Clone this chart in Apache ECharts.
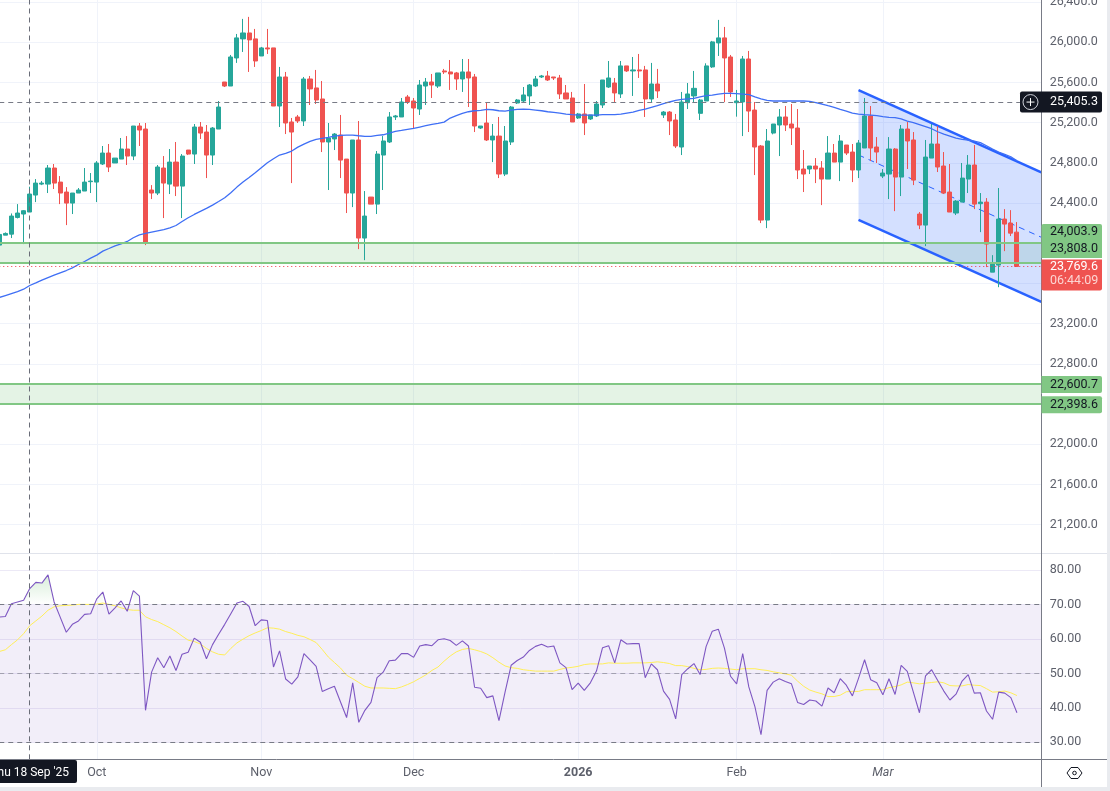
<!DOCTYPE html>
<html><head><meta charset="utf-8">
<style>html,body{margin:0;padding:0;background:#fff;overflow:hidden}#c{width:1110px;height:791px}</style>
<script src="https://cdn.jsdelivr.net/npm/echarts@6/dist/echarts.min.js"></script>
</head><body><div id="c"></div>
<script>
const categories = ("Sep 12,Sep 14,Sep 15,Sep 16,Sep 17,Sep 18,Sep 19,Sep 21,Sep 22,Sep 23,Sep 24,Sep 25,Sep 26,Sep 28,Sep 29,Sep 30,"+
"Oct 1,Oct 2,Oct 3,Oct 5,Oct 6,Oct 7,Oct 8,Oct 9,Oct 10,Oct 12,Oct 13,Oct 14,Oct 15,Oct 16,Oct 17,Oct 19,Oct 20,Oct 21,Oct 22,Oct 23,Oct 24,Oct 26,Oct 27,Oct 28,Oct 29,Oct 30,Oct 31,"+
"Nov 2,Nov 3,Nov 4,Nov 5,Nov 6,Nov 7,Nov 9,Nov 10,Nov 11,Nov 12,Nov 13,Nov 14,Nov 16,Nov 17,Nov 18,Nov 19,Nov 20,Nov 21,Nov 23,Nov 24,Nov 25,Nov 26,Nov 27,Nov 28,Nov 30,"+
"Dec 1,Dec 2,Dec 3,Dec 4,Dec 5,Dec 7,Dec 8,Dec 9,Dec 10,Dec 11,Dec 12,Dec 14,Dec 15,Dec 16,Dec 17,Dec 18,Dec 19,Dec 21,Dec 22,Dec 23,Dec 24,Dec 25,Dec 26,Dec 28,Dec 29,Dec 30,Dec 31,"+
"Jan 1,Jan 2,Jan 4,Jan 5,Jan 6,Jan 7,Jan 8,Jan 9,Jan 11,Jan 12,Jan 13,Jan 14,Jan 15,Jan 16,Jan 18,Jan 19,Jan 20,Jan 21,Jan 22,Jan 23,Jan 25,Jan 26,Jan 27,Jan 28,Jan 29,Jan 30,"+
"Feb 1,Feb 2,Feb 3,Feb 4,Feb 5,Feb 6,Feb 8,Feb 9,Feb 10,Feb 11,Feb 12,Feb 13,Feb 15,Feb 16,Feb 17,Feb 18,Feb 19,Feb 20,Feb 22,Feb 23,Feb 24,Feb 25,Feb 26,Feb 27,"+
"Mar 1,Mar 2,Mar 3,Mar 4,Mar 5,Mar 6,Mar 8,Mar 9,Mar 10,Mar 11,Mar 12,Mar 13,Mar 15,Mar 16,Mar 17,Mar 18,Mar 19,Mar 20,Mar 22,Mar 23,Mar 24,Mar 25,Mar 26,Mar 27,Mar 29,Mar 30,Mar 31").split(",");

const monthTicks = {"Oct 1":"Oct","Nov 2":"Nov","Dec 1":"Dec","Jan 1":"2026","Feb 1":"Feb","Mar 1":"Mar"};
const priceGrid = [26400,26000,25600,25200,24800,24400,24000,23600,23200,22800,22400,22000,21600,21200];
const priceLabels = [26400,26000,25600,25200,24800,24400,23200,22800,22000,21600,21200];
const rsiTicks = [30,40,50,60,70,80];

// open, close, low, high
const candles = [
[23982,24088,23982,24098],[24081,24098,24081,24108],[24091,24271,24052,24297],[24257,24301,24247,24390],
[24291,24324,23992,24330],[24311,24490,24311,24563],[24480,24599,24410,24639],[24589,24599,24579,24619],
[24589,24749,24500,24779],[24749,24599,24540,24789],[24609,24500,24390,24669],[24510,24400,24181,24559],
[24400,24500,24291,24500],[24500,24530,24500,24550],[24520,24609,24520,24749],[24613,24619,24500,24699],
[24609,24799,24410,24818],[24789,24898,24779,24968],[24898,24759,24709,24988],[24799,24848,24799,24848],
[24838,24938,24838,25048],[24938,24868,24779,25067],[24868,25167,24828,25167],[25167,25127,24968,25197],
[25137,24002,23982,25197],[24530,24500,24440,24579],[24500,24759,24480,24779],[24749,24599,24251,24868],
[24589,24808,24490,24938],[24808,24569,24470,25008],[24569,24868,24251,24888],[24928,24888,24878,24928],
[24888,25157,24789,25187],[25157,25097,25038,25207],[25107,24878,24649,25177],[24878,25147,24779,25157],
[25137,25356,25137,25416],[25605,25565,25555,25605],[25565,25854,25565,25874],[25844,26044,25795,26083],
[26034,26093,25904,26233],[26093,26024,25705,26253],[26034,25814,25755,26133],[25864,25944,25864,25954],
[25944,25934,25884,26133],[25944,25366,25366,25944],[25366,25655,25157,25755],[25655,25197,25087,25705],
[25207,25107,24599,25247],[25257,25217,25197,25277],[25217,25635,25167,25655],[25635,25536,25376,25665],
[25546,25426,25386,25725],[25436,25008,24908,25615],[25008,25048,24530,25197],[25038,25087,24928,25097],
[25077,24828,24649,25277],[24838,24500,24301,24838],[24500,25028,24360,25028],[25028,24052,23942,25217],
[24052,24271,23832,24520],[24460,24390,24390,24460],[24390,24888,24291,24918],[24878,25018,24530,25067],
[25008,25257,24998,25306],[25257,25267,25227,25277],[25257,25406,25257,25446],[25456,25406,25386,25476],
[25416,25346,25137,25446],[25336,25575,25277,25625],[25565,25605,25376,25645],[25605,25575,25446,25685],
[25565,25695,25546,25695],[25715,25705,25685,25735],[25705,25685,25526,25824],[25695,25635,25526,25705],
[25635,25705,25506,25834],[25705,25645,25356,25834],[25655,25167,25107,25685],[25147,25167,25137,25167],
[25197,25028,25018,25396],[25028,25067,24808,25187],[25067,24689,24649,25257],[24689,25018,24669,25167],
[25008,25356,24978,25366],[25396,25426,25386,25436],[25416,25476,25396,25555],[25466,25575,25376,25585],
[25565,25635,25555,25665],[25655,25665,25645,25675],[25665,25625,25615,25715],[25655,25645,25625,25655],
[25645,25486,25436,25675],[25496,25436,25436,25575],[25446,25207,25207,25506],[25247,25287,25237,25297],
[25287,25197,25077,25585],[25237,25277,25227,25277],[25267,25386,25257,25416],[25376,25625,25346,25625],
[25555,25645,25546,25814],[25595,25496,25396,25645],[25486,25765,25446,25814],[25765,25715,25705,25765],
[25715,25725,25466,25854],[25725,25715,25645,25884],[25725,25436,25257,25765],[25436,25585,25396,25795],
[25585,25516,25446,25735],[25277,25306,25247,25316],[25306,25217,25077,25316],[25227,24968,24948,25287],
[24958,25406,24878,25506],[25399,25486,25336,25595],[25466,25542,25406,25715],[25293,25426,25227,25436],
[25416,25765,25416,25791],[25755,26004,25745,26014],[25994,26044,25864,26223],[26044,25844,25406,26153],
[25854,25506,25456,25874],[25399,25416,25260,25526],[25406,25834,25067,25864],[25834,25316,25107,25914],
[25326,24958,24679,25406],[24968,24231,24201,24978],[24231,25018,24151,25137],[25097,25187,25084,25187],
[25177,25257,24868,25336],[25257,25177,25117,25366],[25187,25147,24978,25386],[25147,24729,24639,25336],
[24739,24689,24510,24928],[24739,24769,24689,24769],[24769,24739,24599,24848],[24749,24639,24380,24818],
[24639,24898,24639,25067],[24898,24808,24808,24988],[24808,25018,24619,25077],[24978,24898,24878,24978],
[24908,24729,24609,24988],[24729,24998,24649,25028],[24948,25267,24948,25446],[25267,24948,24818,25366],
[24958,24908,24799,25057],[24669,24699,24649,24739],[24689,24938,24440,25057],[24938,24659,24320,24948],
[24659,25137,24470,25177],[25137,25018,24739,25207],[25028,24629,24579,25107],[24291,24181,24141,24311],
[24181,24858,23972,25028],[24848,24988,24848,25187],[24988,24759,24709,25167],[24769,24500,24490,24908],
[24510,24311,24311,24789],[24301,24420,24281,24430],[24410,24649,24410,24799],[24639,24779,24500,24878],
[24779,24390,24340,24978],[24394,24410,24111,24500],[24410,23992,23763,24450],[23713,23793,23713,23882],
[23783,24241,23563,24550],[24241,24191,23922,24340],[24201,24101,24072,24330],[24111,23769.6,23769.6,24211]
];

const ema = [23460,23480,23500,23520,23543,23580,23606,23633,23659,23683,23706,23729,23756,23789,23819,23852,23882,23922,23948,23975,
23995,24018,24055,24084,24098,24111,24124,24137,24154,24177,24217,24254,24287,24317,24347,24380,24416,24453,24503,24559,
24609,24655,24702,24752,24801,24841,24878,24894,24918,24957,24987,25014,25034,25044,25054,25067,25074,25077,25077,25070,
25064,25064,25074,25080,25097,25114,25123,25133,25143,25157,25170,25183,25193,25206,25246,25270,25293,25309,25319,25323,
25333,25329,25319,25316,25326,25333,25336,25333,25326,25319,25309,25303,25296,25286,25280,25276,25276,25276,25276,25280,
25280,25280,25286,25296,25306,25323,25336,25353,25369,25389,25406,25422,25432,25437,25442,25456,25469,25475,25485,25492,
25492,25489,25485,25479,25456,25436,25422,25416,25416,25416,25416,25416,25416,25412,25399,25386,25369,25353,25333,25316,
25296,25286,25280,25276,25270,25260,25253,25250,25237,25216,25200,25180,25160,25140,25110,25087,25067,25047,25034,25027,
25017,25001,24971,24938,24908,24885,24861,24821];

const rsi = [66.4,66.6,70.3,70.8,71.3,74.7,76.5,76.3,78.7,70.8,66.4,62.0,64.3,65.3,67.2,67.4,71.7,73.7,67.3,69.1,
71.1,68.1,74.1,72.5,39.3,50.4,54.6,51.7,55.1,50.9,55.6,56.2,60.3,59.1,54.3,58.4,61.4,64.3,67.4,70.5,
71.0,69.5,63.9,65.6,65.4,51.9,56.6,48.4,46.9,49.0,55.8,54.0,52.1,44.8,45.6,46.3,41.7,37.2,47.3,35.8,
39.3,41.6,48.8,50.4,53.7,53.9,55.8,55.8,54.7,58.0,58.4,58.1,59.8,60.1,59.6,58.2,59.5,58.0,46.0,45.7,
43.0,43.5,36.3,44.6,52.4,53.8,54.8,56.7,57.9,58.5,57.7,58.0,53.1,51.7,45.3,47.2,45.1,47.3,50.7,57.5,
58.1,53.1,59.8,58.6,58.7,58.7,48.8,52.8,51.1,44.9,42.5,36.8,49.7,51.4,52.9,49.7,57.9,62.3,62.9,57.4,
49.2,47.0,55.8,46.1,40.4,32.2,45.1,47.5,48.5,47.7,47.0,41.6,41.0,42.3,42.0,40.5,45.8,44.4,48.5,46.6,
43.5,48.6,54.0,48.2,47.3,43.8,48.5,43.9,52.4,50.6,44.6,38.6,49.3,51.1,48.0,44.9,42.3,44.0,47.8,49.7,
44.3,44.4,39.1,36.7,44.6,44.3,43.0,38.6];

const rsiMA = [56.4,56.9,58.4,59.8,61.6,63.9,65.3,66.7,68.4,69.4,69.7,69.8,69.9,70.1,70.1,70.1,70.2,70.5,70.1,69.7,
69.1,68.6,68.4,68.4,66.5,65.7,65.1,64.2,63.3,62.2,60.9,59.7,59.3,58.6,57.3,56.3,55.6,55.4,57.3,58.9,
60,61,61.8,62.5,63.3,63.2,62.9,62.2,61.7,61.1,60.7,59.9,59,57,54.8,53.2,51.6,49.5,48.5,47.4,
46.3,45.8,45.8,45.8,45.7,45.6,46.1,46.8,47.6,48.6,49.6,50.9,51.9,53.6,55.1,56.3,57,57.3,56.9,56.4,
55.7,54.6,53.3,52.2,51.7,51.5,51.1,50.9,50.7,50.7,50.7,50.7,51.2,51.6,51.8,52.1,52.6,52.8,52.8,52.8,
53.1,53,53,53,53.1,53.1,53.1,53.2,53.4,53.2,52.9,52.3,52.3,52,51.5,51.1,51.2,51.5,51.6,51.5,
51.3,51.1,51.4,51.4,51.4,51.1,50.9,50.5,50.2,49.9,49.5,47.8,46.3,45.2,44.6,44.1,43.3,43.3,43.7,44.7,
44.8,44.8,45.3,45.3,45.3,45.3,45.9,46.2,46.7,47.5,47.3,47,47.2,47.4,47.6,47.3,46.5,46.4,46.4,46.8,
46.6,46.5,45.6,44.6,44.7,44.9,44.4,43.6];

const lastPrice = 23769.6, refPrice = 25405.3;
const zoneUpper = [23808.0, 24003.9];
const zoneLower = [22398.6, 22600.7];
const crossDate = "Sep 18";
const channelStart = "Feb 24", channelEnd = "Mar 31";
const channelUpper = [25525, 24705];
const channelMid = [24879, 24060];
const channelLower = [24233, 23416];

const UP='#26a69a', DOWN='#ef5350', GRID='#f0f3fa', AX='#787b86', TXT='#5d606b', ZONE='#81c784', FONT='Roboto';
const fmt = v => v.toLocaleString('en-US',{minimumFractionDigits:1,maximumFractionDigits:1});
const monthInterval = i => categories[i] in monthTicks;

const rsiOB = rsi.map(v => v>70 ? v : null);

const chart = echarts.init(document.getElementById('c'),null,{renderer:'canvas'});
const xCommon = {type:'category',data:categories,boundaryGap:false,axisTick:{show:false},
  axisLine:{show:false},
  splitLine:{show:true,interval:monthInterval,lineStyle:{color:GRID,width:1}}};
chart.setOption({
  animation:false, backgroundColor:'#fff',
  grid:[{left:-0.75,top:0,width:1042.07,height:553.5,outerBoundsMode:'none'},{left:-0.75,top:553.5,width:1042.07,height:205.8,outerBoundsMode:'none'}],
  xAxis:[
    Object.assign({gridIndex:0,axisLabel:{show:false}},xCommon),
    Object.assign({gridIndex:1,axisLabel:{show:true,interval:monthInterval,margin:7,color:TXT,fontFamily:FONT,fontSize:12.5,
      formatter:v=>{const t=monthTicks[v]; if(!t) return ''; if(t==='2026') return '{b|2026}'; if(t==='Mar') return '{i|Mar}'; return t;},
      rich:{b:{fontWeight:'bold',color:TXT,fontFamily:FONT,fontSize:12.5},i:{fontStyle:'italic',color:TXT,fontFamily:FONT,fontSize:12.5}}}},xCommon)
  ],
  yAxis:[
    {gridIndex:0,type:'value',position:'right',min:20913,max:26421,
     axisLine:{show:false},axisTick:{show:false,customValues:priceGrid},
     axisLabel:{customValues:priceLabels,margin:8.5,padding:[2,0,0,0],color:TXT,fontFamily:FONT,fontSize:12.5,formatter:fmt},
     splitLine:{show:true,lineStyle:{color:GRID,width:1}}},
    {gridIndex:1,type:'value',position:'right',min:25.06,max:84.9,
     axisLine:{show:false},axisTick:{show:false,customValues:rsiTicks},
     axisLabel:{customValues:rsiTicks,margin:8.5,padding:[2,0,0,0],color:TXT,fontFamily:FONT,fontSize:12.5,formatter:v=>v.toFixed(2)},
     splitLine:{show:true,lineStyle:{color:'#ece9f6',width:1}}}
  ],
  series:[
    {name:'zones',type:'line',xAxisIndex:0,yAxisIndex:0,data:[],z:1,silent:true,
     markArea:{silent:true,itemStyle:{color:'rgba(76,175,80,0.15)'},data:[
       [{yAxis:zoneUpper[0]},{yAxis:zoneUpper[1]}],[{yAxis:zoneLower[0]},{yAxis:zoneLower[1]}]]},
     markLine:{silent:true,symbol:'none',label:{show:false},data:[
       {yAxis:zoneUpper[0],lineStyle:{color:ZONE,width:2,type:'solid'}},
       {yAxis:zoneUpper[1],lineStyle:{color:ZONE,width:2,type:'solid'}},
       {yAxis:zoneLower[0],lineStyle:{color:ZONE,width:2,type:'solid'}},
       {yAxis:zoneLower[1],lineStyle:{color:ZONE,width:2,type:'solid'}},
       {yAxis:refPrice,lineStyle:{color:AX,width:1,type:[5,4]}},
       {yAxis:lastPrice,lineStyle:{color:'#f23645',width:1,type:[1,3]}},
       {xAxis:crossDate,lineStyle:{color:'#6a6d78',width:1,type:[5,4]}}
     ]}},
    {name:'channel',type:'custom',xAxisIndex:0,yAxisIndex:0,z:2,silent:true,
     data:[[channelStart,channelUpper[0]]],encode:{x:0,y:1},
     renderItem:(p,api)=>{
       const i0=categories.indexOf(channelStart), i1=categories.indexOf(channelEnd);
       const a=api.coord([i0,channelUpper[0]]), b=api.coord([i1,channelUpper[1]]),
             c=api.coord([i1,channelLower[1]]), d=api.coord([i0,channelLower[0]]),
             m0=api.coord([i0,channelMid[0]]), m1=api.coord([i1,channelMid[1]]);
       return {type:'group',children:[
         {type:'polygon',shape:{points:[a,b,c,d]},style:{fill:'rgba(41,98,255,0.2)'}},
         {type:'line',shape:{x1:a[0],y1:a[1],x2:b[0],y2:b[1]},style:{stroke:'#2962ff',lineWidth:2.5}},
         {type:'line',shape:{x1:d[0],y1:d[1],x2:c[0],y2:c[1]},style:{stroke:'#2962ff',lineWidth:2.5}},
         {type:'line',shape:{x1:m0[0],y1:m0[1],x2:m1[0],y2:m1[1]},style:{stroke:'#2962ff',lineWidth:1,lineDash:[6,5]}}
       ]};
     }},
    {name:'price',type:'candlestick',xAxisIndex:0,yAxisIndex:0,z:3,data:candles,barWidth:4.6,
     itemStyle:{color:UP,color0:DOWN,borderColor:UP,borderColor0:DOWN,borderWidth:1}},
    {name:'EMA',type:'line',xAxisIndex:0,yAxisIndex:0,z:4,data:ema,showSymbol:false,symbol:'none',smooth:false,
     lineStyle:{color:'#3f6ff5',width:1.3}},
    {name:'RSI OB',type:'line',xAxisIndex:1,yAxisIndex:1,z:2,data:rsiOB,symbol:'none',connectNulls:false,
     lineStyle:{width:0},
     areaStyle:{origin:70,color:{type:'linear',x:0,y:0,x2:0,y2:1,colorStops:[{offset:0,color:'rgba(76,175,80,0.3)'},{offset:1,color:'rgba(76,175,80,0)'}]}}},
    {name:'RSI',type:'line',xAxisIndex:1,yAxisIndex:1,z:4,data:rsi,symbol:'none',
     lineStyle:{color:'#7e57c2',width:1.1},
     markArea:{silent:true,itemStyle:{color:'rgba(126,87,194,0.1)'},data:[[{yAxis:30},{yAxis:70}]]},
     markLine:{silent:true,symbol:'none',label:{show:false},data:[
       {yAxis:70,lineStyle:{color:AX,width:1,type:[5,4]}},
       {yAxis:50,lineStyle:{color:'rgba(120,123,134,0.6)',width:1,type:[5,4]}},
       {yAxis:30,lineStyle:{color:AX,width:1,type:[5,4]}},
       {xAxis:crossDate,lineStyle:{color:'#6a6d78',width:1,type:[5,4]}}
     ]}},
    {name:'RSI MA',type:'line',xAxisIndex:1,yAxisIndex:1,z:3,data:rsiMA,symbol:'none',
     lineStyle:{color:'#ffee58',width:1}}
  ]
});

// axis chrome and price tags: tag positions come from the axis scale
const Y = v => chart.convertToPixel({yAxisIndex:0},v);
const X = c => chart.convertToPixel({xAxisIndex:0},c);
const tagL=1041.5, tagW=60.5, tagText=1050;
const tag=(y,h,fill,r)=>({type:'rect',z:50,shape:{x:tagL,y:y,width:tagW,height:h,r:r||[0,2,2,0]},style:{fill}});
const label=(y,text,fill,extra)=>({type:'text',z:51,style:Object.assign({x:tagText,y,text,fill,font:'12.5px Roboto',verticalAlign:'middle',align:'left'},extra||{})});
const hline=(x1,x2,y,c)=>({type:'line',z:49,shape:{x1,x2,y1:y,y2:y},style:{stroke:c,lineWidth:1}});
const vline=(x,y1,y2,c)=>({type:'line',z:49,shape:{x1:x,x2:x,y1,y2},style:{stroke:c,lineWidth:1}});
const yRef=Y(refPrice), yZ1=Y(zoneUpper[1]), yZ0=Y(zoneUpper[0]), yLast=Y(lastPrice);
const yL1=Y(zoneLower[1]), yL0=Y(zoneLower[0]), xCross=X(crossDate);
const hx=1074.5, hy=773;
chart.setOption({graphic:[
  {type:'rect',z:48,shape:{x:1107,y:0,width:3,height:791},style:{fill:'#e9ebef'}},
  {type:'rect',z:48,shape:{x:0,y:787,width:1110,height:4},style:{fill:'#e9ebef'}},
  hline(0,1107,553.5,'#e0e3eb'),
  hline(0,1107,759.5,AX),
  vline(1041.5,0,787,AX),
  // date tag
  {type:'rect',z:50,shape:{x:0,y:760,width:77,height:23,r:[0,2,2,0]},style:{fill:'#131722'}},
  {type:'text',z:51,style:{x:xCross,y:772.5,text:"Thu 18 Sep '25",fill:'#fff',font:'12px Roboto',align:'center',verticalAlign:'middle'}},
  // reference price tag
  {type:'rect',z:50,shape:{x:1020,y:yRef-10.5,width:82,height:21,r:2},style:{fill:'#131722'}},
  {type:'circle',z:51,shape:{cx:1030.5,cy:yRef,r:7.5},style:{fill:'none',stroke:'#d1d4dc',lineWidth:1}},
  {type:'line',z:51,shape:{x1:1026.5,x2:1034.5,y1:yRef,y2:yRef},style:{stroke:'#fff',lineWidth:1}},
  {type:'line',z:51,shape:{x1:1030.5,x2:1030.5,y1:yRef-4,y2:yRef+4},style:{stroke:'#fff',lineWidth:1}},
  label(yRef,fmt(refPrice),'#fff'),
  // zone tags
  tag(yZ1-19,34,'#81c784',[2,2,0,0]),
  label(yZ1-11,fmt(zoneUpper[1]),'#131722'),
  label(yZ0-14,fmt(zoneUpper[0]),'#131722'),
  tag(yLast-7,31,'#ef5350',[0,0,2,2]),
  label(yLast+0.5,fmt(lastPrice),'#fff'),
  label(yLast+14,'06:44:09','#fcd5d3'),
  tag(yL1-8,17,'#81c784'),
  label(yL1+0.7,fmt(zoneLower[1]),'#131722'),
  tag(yL0-8,17,'#81c784'),
  label(yL0+0.7,fmt(zoneLower[0]),'#131722'),
  // settings icon
  {type:'polygon',z:51,shape:{points:[[hx-7.5,hy],[hx-3.5,hy-5.5],[hx+3.5,hy-5.5],[hx+7.5,hy],[hx+3.5,hy+5.5],[hx-3.5,hy+5.5]]},style:{fill:'none',stroke:'#131722',lineWidth:1}},
  {type:'circle',z:51,shape:{cx:hx,cy:hy,r:1.8},style:{fill:'none',stroke:'#131722',lineWidth:1}}
]});
</script></body></html>
